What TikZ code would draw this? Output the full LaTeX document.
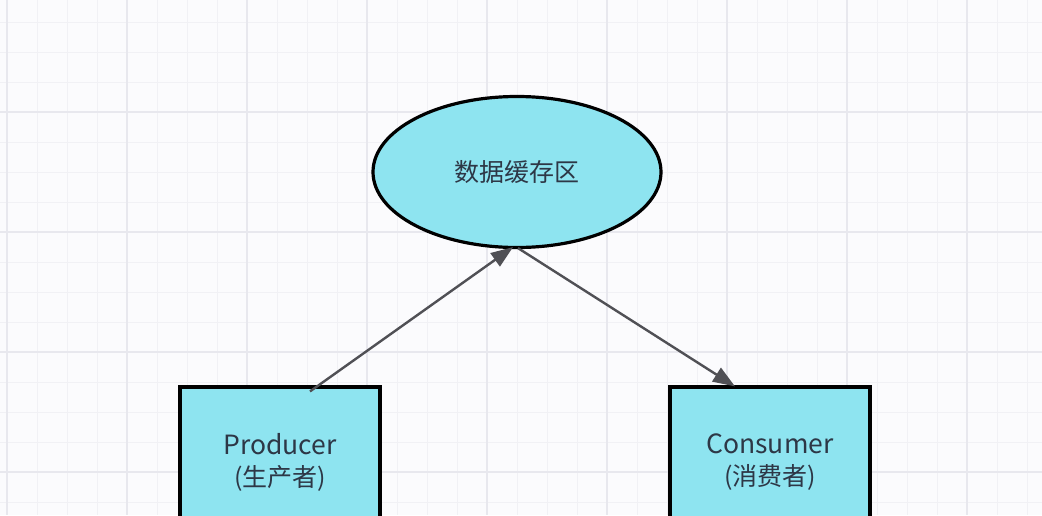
\documentclass[tikz,border=0pt]{standalone}
\usepackage{fontspec}
\setmainfont{Noto Sans CJK SC}
\usetikzlibrary{shapes.geometric,arrows.meta}
\definecolor{cellfill}{RGB}{142,228,240}
\definecolor{inktext}{RGB}{45,55,70}
\definecolor{linkgray}{RGB}{80,80,85}
\definecolor{gridminor}{RGB}{241,241,245}
\definecolor{gridmajor}{RGB}{232,232,238}
\definecolor{paper}{RGB}{251,251,253}

\begin{document}
\begin{tikzpicture}[x=1pt, y=-1pt, thick,
	main node/.style={draw=black, line width=3.2pt, fill=cellfill, text=inktext, align=center, font=\fontsize{25}{32}\selectfont},
	buffer node/.style={main node, ellipse, minimum width=288pt, minimum height=151pt},
	block node/.style={main node, rectangle, minimum width=200pt, minimum height=150pt},
	link/.style={draw=linkgray, line width=2.4pt, -{Triangle[length=22pt,width=16pt,fill=linkgray]}}]
	\useasboundingbox (0,0) rectangle (1042,515);
	\clip (0,0) rectangle (1042,515);
	\fill[paper] (0,0) rectangle (1042,515);
	% grid
	\foreach \x in {7,37,...,1042} \draw[gridminor, line width=1pt] (\x,0) -- (\x,515);
	\foreach \y in {22,52,...,515} \draw[gridminor, line width=1pt] (0,\y) -- (1042,\y);
	\foreach \x in {7,127,...,1042} \draw[gridmajor, line width=1.2pt] (\x,0) -- (\x,515);
	\foreach \y in {112,232,...,515} \draw[gridmajor, line width=1.2pt] (0,\y) -- (1042,\y);
	% nodes
	\node[buffer node] (B) at (517,172) {数据缓存区};
	\node[block node] (P) at (280,462) {\fontsize{26.5}{32}\selectfont Producer\\(生产者)};
	\node[block node] (C) at (770,462) {\fontsize{26.5}{32}\selectfont Consumer\\(消费者)};
	% links
	\path[link] ([xshift=30pt,yshift=-6pt]P.north) -- ([xshift=-4pt,yshift=2pt]B.south);
	\path[link] ([xshift=1pt,yshift=1pt]B.south) -- ([xshift=-35pt,yshift=-1pt]C.north);
\end{tikzpicture}
\end{document}
